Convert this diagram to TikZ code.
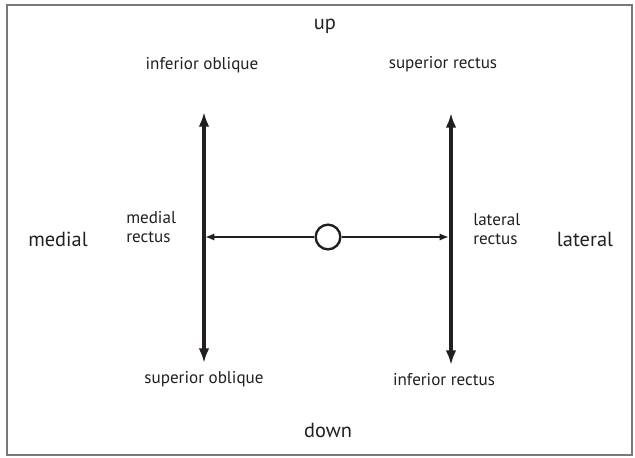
\documentclass[tikz,border=0pt]{standalone}
\usepackage{fontspec}
\setmainfont{PT Sans}
\usetikzlibrary{arrows.meta}
\definecolor{frame}{RGB}{120,120,120}
\definecolor{ink}{RGB}{35,31,32}

\begin{document}
\begin{tikzpicture}[x=0.75pt, y=-0.75pt,
  lbl/.style={font=\fontsize{12.8}{14.5}\selectfont, text=ink, inner sep=0pt},
  dir/.style={font=\fontsize{15.3}{18}\selectfont, text=ink, inner sep=0pt},
  vr/.style={{Latex[length=11pt,width=8pt]}-{Latex[length=11pt,width=8pt]}, line width=2.3pt, draw=ink},
  hr/.style={-{Latex[length=7pt,width=5.5pt]}, line width=1.6pt, draw=ink}]
\useasboundingbox (0,0) rectangle (635,457);
\draw[frame, line width=0.8pt] (7,5) rectangle (632,455);
% directions
\node[dir] (up) at (325,26) {up};
\node[dir] (down) at (328,430) {down};
\node[dir] (medial) at (58,239) {medial};
\node[dir] (lateral) at (585,239) {lateral};
% muscles
\node[lbl] (io) at (202,65) {inferior oblique};
\node[lbl] (sr) at (443,64) {superior rectus};
\node[lbl] (so) at (204,379) {superior oblique};
\node[lbl] (ir) at (444,380) {inferior rectus};
\node[lbl, align=left, anchor=west] (mr) at (126,227) {medial\\rectus};
\node[lbl, align=left, anchor=west] (lr) at (473,229) {lateral\\rectus};
% axes
\coordinate (ltop) at (204,112);
\coordinate (lbot) at (204,363);
\coordinate (rtop) at (451,113);
\coordinate (rbot) at (451,365);
\coordinate (lmid) at (205,237);
\coordinate (rmid) at (449,237);
\draw[vr] (ltop) -- (lbot);
\draw[vr] (rtop) -- (rbot);
\node[circle, draw=ink, line width=1.8pt, minimum size=18.5pt, inner sep=0pt] (eye) at (328,237) {};
\draw[hr] (eye) -- (lmid);
\draw[hr] (eye) -- (rmid);
\end{tikzpicture}
\end{document}
